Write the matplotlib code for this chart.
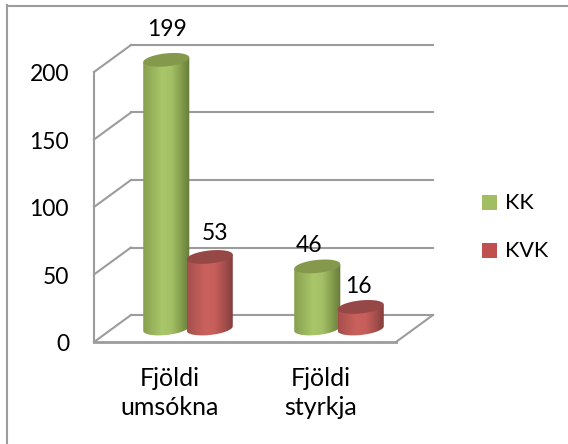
import numpy as np
import matplotlib
matplotlib.use('Agg')
import matplotlib.pyplot as plt
from matplotlib.colors import LinearSegmentedColormap
from matplotlib.lines import Line2D
from matplotlib.patches import Polygon, Rectangle
from matplotlib.transforms import Affine2D

plt.rcParams['font.family'] = ['Lato', 'DejaVu Sans']

# chart data
categories = ['Fjöldi\numsókna', 'Fjöldi\nstyrkja']
series_names = ['KK', 'KVK']
kk_values = [199, 46]
kvk_values = [53, 16]
y_ticks = [0, 50, 100, 150, 200]

W, H = 568, 444
DEPTH = (37, 27)  # pixels the floor runs back
GRID = '#9c9c9c'

fig = plt.figure(figsize=(W / 100, H / 100), dpi=100)
ax = fig.add_axes([94 / W, 1 - 342 / H, 302 / W, 270 / H])
ax.axis('off')

# only the top and left edges of the frame are in the picture
fig.add_artist(Line2D([6.5 / W, 1], [1 - 6 / H, 1 - 6 / H], color=GRID, lw=1.5, transform=fig.transFigure))
fig.add_artist(Line2D([7 / W, 7 / W], [0, 1 - 5 / H], color=GRID, lw=1.5, transform=fig.transFigure))

back = ax.transData + Affine2D().translate(*DEPTH)
mid = ax.transData + Affine2D().translate(DEPTH[0] / 2, DEPTH[1] / 2)
DX = DEPTH[0] * 2 / 302
DY = DEPTH[1] * 200 / 270

# gridlines on the side and back walls
for v in y_ticks:
    ax.plot([0, DX], [v, v + DY], color=GRID, lw=1.5, clip_on=False)
    ax.plot([0, 2], [v, v], color=GRID, lw=1.5, transform=back, clip_on=False)
    ax.text(-0.165, v - 2.2, str(v), ha='right', va='center', fontsize=16.5, color='black')
ax.plot([0, 0], [0, 200], color=GRID, lw=1.5, clip_on=False)
ax.plot([0, 2], [0, 0], color=GRID, lw=2, clip_on=False)
ax.plot([2, 2 + DX], [0, DY], color=GRID, lw=1.5, clip_on=False)

green_cm = LinearSegmentedColormap.from_list('g', ['#88a04e', '#98b35c', '#a9c669', '#a5c166', '#86a04f', '#667a3b'])
red_cm = LinearSegmentedColormap.from_list('r', ['#a54f4c', '#b95955', '#cb615d', '#c65e5a', '#a54f4c', '#7f3d3b'])
grad = np.linspace(0, 1, 256).reshape(1, -1)

BAR_W = 0.305
STEP = 0.288
RX = BAR_W / 2
RY = 6.5 * 200 / 270
SLOPE = 0.1 * (200 / 270) * (302 / 2)  # value units per x unit, from a 0.1 px/px tilt


def ellipse(cx, v, t):
    return cx + RX * np.cos(t), v + RY * np.sin(t) + SLOPE * RX * np.cos(t)


def cylinder(cx, v, cmap, top_color, shift):
    t = np.linspace(np.pi, 2 * np.pi, 60)
    bx, by = ellipse(cx, 0, t)
    xs = np.concatenate([bx, [cx + RX, cx - RX]])
    ys = np.concatenate([by, [by[-1] + v, by[0] + v]])
    body = Polygon(np.column_stack([xs, ys]), closed=True, transform=mid, facecolor='none', edgecolor='none')
    ax.add_patch(body)
    im = ax.imshow(grad, cmap=cmap, extent=[cx - RX, cx + RX, -20, 220], aspect='auto',
                   transform=mid, zorder=3, interpolation='bilinear')
    im.set_clip_box(fig.bbox)
    im.set_clip_path(body)
    t = np.linspace(0, 2 * np.pi, 80)
    tx, ty = ellipse(cx, v, t)
    ax.add_patch(Polygon(np.column_stack([tx, ty]), closed=True, transform=mid,
                         facecolor=top_color, edgecolor='none', zorder=3.5, clip_on=False))
    # the value labels sit a little off the bars, differently for each one
    ax.text(cx, v, str(v), transform=mid + Affine2D().translate(*shift), ha='center', va='center',
            fontsize=16.5, color='black', zorder=5, clip_on=False)


kk_shift = [(1, 30), (-8, 20.5)]
kvk_shift = [(5, 23), (-2, 20.5)]
for i in range(len(categories)):
    cylinder(i + 0.5 - STEP / 2, kk_values[i], green_cm, '#84994c', kk_shift[i])
    cylinder(i + 0.5 + STEP / 2, kvk_values[i], red_cm, '#964846', kvk_shift[i])
    ax.text(i + 0.5, -18.5, categories[i], ha='center', va='top', fontsize=18, color='black',
            linespacing=1.3, clip_on=False)

ax.set_xlim(0, 2)
ax.set_ylim(0, 200)

# legend
for name, color, y in zip(series_names, ['#a3bd63', '#c0504d'], [202.5, 250.5]):
    fig.add_artist(Rectangle((482 / W, 1 - (y + 7.5) / H), 15 / W, 15 / H, transform=fig.transFigure,
                             facecolor=color, edgecolor='none'))
    fig.text(505 / W, 1 - (y + 0.5) / H, name, ha='left', va='center', fontsize=15.5, color='black')

fig.savefig('out.png', dpi=100)
